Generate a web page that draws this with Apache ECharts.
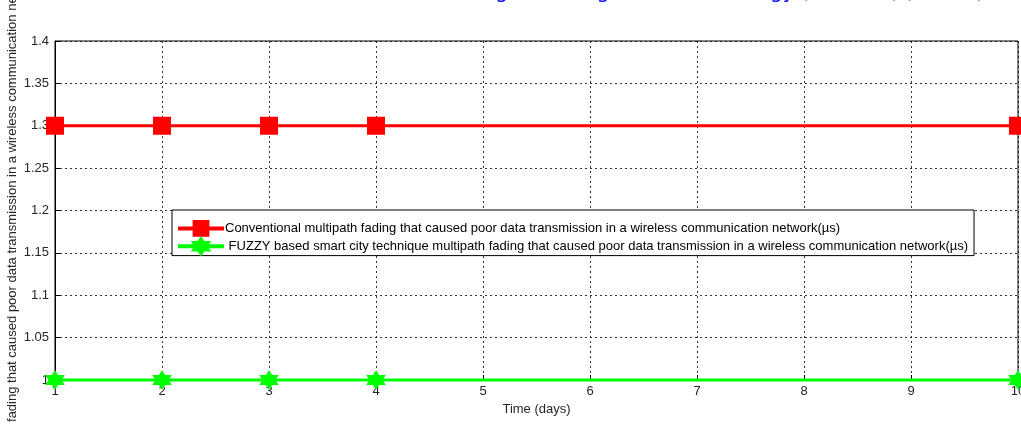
<!DOCTYPE html>
<html><head><meta charset="utf-8">
<script src="https://cdn.jsdelivr.net/npm/echarts@6/dist/echarts.min.js"></script>
<style>html,body{margin:0;padding:0;background:#fff}#c{width:1021px;height:425px}</style>
</head><body><div id="c"></div>
<script>
const days = [1, 2, 3, 4, 10];
const conventional = [1.3, 1.3, 1.3, 1.3, 1.3];
const fuzzy = [1.0, 1.0, 1.0, 1.0, 1.0];
const seriesNames = [
  'Conventional multipath fading that caused poor data transmission in a wireless communication network(\u00b5s)',
  ' FUZZY based smart city technique multipath fading that caused poor data transmission in a wireless communication network(\u00b5s)'
];
const titleText = 'Transmission Loss in Fading Set Using Smart Technology (Time in (s), Error)';
const xName = 'Time (days)';
const yName = 'Multipath fading that caused poor data transmission in a wireless communication network(\u00b5s)';

const hexagram = 'path://M50,0L64.4,25L93.3,25L78.9,50L93.3,75L64.4,75L50,100L35.6,75L6.7,75L21.1,50L6.7,25L35.6,25Z';
const chart = echarts.init(document.getElementById('c'), null, {renderer: 'canvas'});
const axisFont = {fontFamily: 'Arial, Liberation Sans', fontSize: 13, color: '#262626'};
chart.setOption({
  animation: false,
  backgroundColor: '#fff',
  title: {
    text: titleText, right: 32, top: -22,
    textStyle: {color: '#0000ff', fontFamily: 'DejaVu Sans', fontSize: 20, fontWeight: 'normal'}
  },
  grid: {left: 55, right: 3, top: 41, bottom: 45, show: true, borderColor: '#000', borderWidth: 1,
         containLabel: false, outerBoundsMode: 'none'},
  legend: {
    orient: 'vertical', left: 172, top: 210,
    backgroundColor: '#fff', borderColor: '#000', borderWidth: 1,
    padding: [10, 6, 0, 4], itemGap: 0, itemWidth: 46, itemHeight: 21,
    lineStyle: {width: 4},
    textStyle: {fontFamily: 'Arial, Liberation Sans', fontSize: 13, color: '#000', padding: [0, 0, 0, -4]},
    data: seriesNames
  },
  xAxis: {
    type: 'value', min: 1, max: 10, interval: 1,
    name: xName, nameLocation: 'middle', nameGap: 22,
    nameTextStyle: axisFont,
    axisLine: {show: true, onZero: false, lineStyle: {color: '#000', width: 1}},
    axisTick: {show: true, inside: true, length: 5, lineStyle: {color: '#000'}},
    axisLabel: Object.assign({margin: 5}, axisFont),
    splitLine: {show: true, lineStyle: {color: '#000', type: [2, 3], width: 0.8}}
  },
  yAxis: {
    type: 'value', min: 1, max: 1.4, interval: 0.05,
    name: yName, nameLocation: 'middle', nameGap: 36, nameMoveOverlap: false,
    nameTextStyle: axisFont,
    axisLine: {show: true, onZero: false, lineStyle: {color: '#000', width: 1}},
    axisTick: {show: true, inside: true, length: 5, lineStyle: {color: '#000'}},
    axisLabel: Object.assign({margin: 6, formatter: v => String(parseFloat(v.toFixed(2)))}, axisFont),
    splitLine: {show: true, lineStyle: {color: '#000', type: [2, 3], width: 0.8}}
  },
  series: [
    {
      name: seriesNames[0], type: 'line', data: days.map((d, i) => [d, conventional[i]]),
      symbol: 'rect', symbolSize: 18, clip: false,
      lineStyle: {color: '#ff0000', width: 3}, itemStyle: {color: '#ff0000'}, z: 3
    },
    {
      name: seriesNames[1], type: 'line', data: days.map((d, i) => [d, fuzzy[i]]),
      symbol: hexagram, symbolSize: 16, clip: false,
      lineStyle: {color: '#00ff00', width: 3}, itemStyle: {color: '#00ff00', borderColor: '#00ff00', borderWidth: 2}, z: 3
    }
  ]
});
</script></body></html>
